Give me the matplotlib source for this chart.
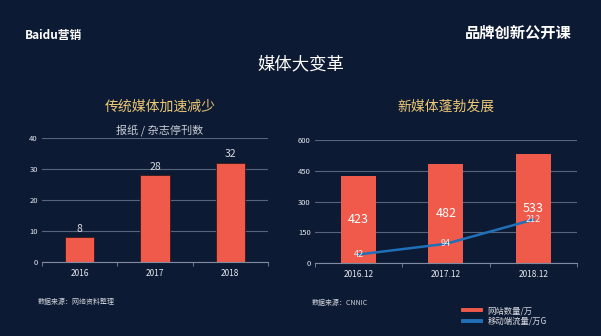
import matplotlib
matplotlib.use("Agg")
import matplotlib.pyplot as plt
from matplotlib.lines import Line2D
import numpy as np

plt.rcParams['font.family'] = ['Noto Sans CJK SC', 'DejaVu Sans']

# ---- data ----
left_categories = ["2016", "2017", "2018"]
left_values = [8, 28, 32]
left_yticks = [0, 10, 20, 30, 40]

right_categories = ["2016.12", "2017.12", "2018.12"]
site_counts = [423, 482, 533]
mobile_traffic = [42, 94, 212]
right_yticks = [0, 150, 300, 450, 600]
legend_labels = ["网站数量/万", "移动端流量/万G"]

BG = "#0d1a33"
BAR = "#ef5a4b"
LINE = "#1f70b8"
GRID = "#56657c"
TXT = "#e6e9ef"
GOLD = "#e9c775"

fig = plt.figure(figsize=(6.01, 3.36), dpi=100)
fig.patch.set_facecolor(BG)

def style_axes(ax):
    ax.set_facecolor("none")
    for s in ["top", "right", "left"]:
        ax.spines[s].set_visible(False)
    ax.spines["bottom"].set_color("#7f8ba0")
    ax.spines["bottom"].set_linewidth(0.8)
    ax.yaxis.grid(True, color=GRID, linewidth=0.8)
    ax.set_axisbelow(True)
    ax.tick_params(axis="y", length=0, colors=TXT, labelsize=5.5, pad=3)
    ax.tick_params(axis="x", which="major", length=0, colors=TXT, labelsize=6, pad=5)
    ax.tick_params(axis="x", which="minor", length=3, color="#7f8ba0")

# ---- left chart ----
axL = fig.add_axes([0.070, 0.220, 0.376, 0.369])
style_axes(axL)
xl = np.arange(len(left_categories))
axL.bar(xl, left_values, width=0.39, color=BAR, edgecolor="#3a1a1a", linewidth=0.6, zorder=2)
for x, v in zip(xl, left_values):
    axL.text(x, v + 1.2, str(v), ha="center", va="bottom", color="#d8dbe2", fontsize=7.5)
axL.set_xlim(-0.5, 2.5)
axL.set_ylim(0, 40)
axL.set_yticks(left_yticks)
axL.set_xticks(xl)
axL.set_xticklabels(left_categories)
axL.set_xticks([-0.5, 0.5, 1.5, 2.5], minor=True)

# ---- right chart ----
axR = fig.add_axes([0.524, 0.217, 0.436, 0.366])
style_axes(axR)
xr = np.arange(len(right_categories))
axR.bar(xr, site_counts, width=0.4, color=BAR, zorder=2)
for x, v in zip(xr, site_counts):
    axR.text(x, v / 2, str(v), ha="center", va="center", color="white", fontsize=9)
axR.plot(xr, mobile_traffic, color=LINE, linewidth=1.8, zorder=3)
for x, v in zip(xr, mobile_traffic):
    axR.text(x, v, str(v), ha="center", va="center", color="#f0f0f0", fontsize=6.5, zorder=4)
axR.set_xlim(-0.5, 2.5)
axR.set_ylim(0, 600)
axR.set_yticks(right_yticks)
axR.set_xticks(xr)
axR.set_xticklabels(right_categories)
axR.set_xticks([-0.5, 0.5, 1.5, 2.5], minor=True)

# ---- texts ----
fig.text(25 / 601, 1 - 36 / 336, "Baidu营销", color="white", fontsize=8.5, fontweight="bold",
         ha="left", va="center")
fig.text(518 / 601, 1 - 33 / 336, "品牌创新公开课", color="white", fontsize=11, fontweight="bold",
         ha="center", va="center")
fig.text(301 / 601, 1 - 64 / 336, "媒体大变革", color="white", fontsize=12.5, ha="center", va="center")
fig.text(160 / 601, 1 - 107 / 336, "传统媒体加速减少", color=GOLD, fontsize=10, ha="center", va="center")
fig.text(160 / 601, 1 - 130 / 336, "报纸 / 杂志停刊数", color="#c9cdd6", fontsize=8, ha="center", va="center")
fig.text(446 / 601, 1 - 107 / 336, "新媒体蓬勃发展", color=GOLD, fontsize=10, ha="center", va="center")
fig.text(38 / 601, 1 - 302 / 336, "数据来源：网络资料整理", color="#d0d4dc", fontsize=5, ha="left", va="center")
fig.text(312 / 601, 1 - 303 / 336, "数据来源：CNNIC", color="#d0d4dc", fontsize=5, ha="left", va="center")

# legend
handles = [Line2D([], [], color=BAR, linewidth=2.8), Line2D([], [], color=LINE, linewidth=2.8)]
fig.legend(handles=handles, labels=legend_labels,
           loc="center left", bbox_to_anchor=(455 / 601, 1 - 316 / 336), frameon=False,
           fontsize=6, labelcolor="#d8dbe2", handlelength=2.2,
           labelspacing=0.2, handletextpad=0.8)

fig.savefig("out.png", dpi=100, facecolor=BG)
